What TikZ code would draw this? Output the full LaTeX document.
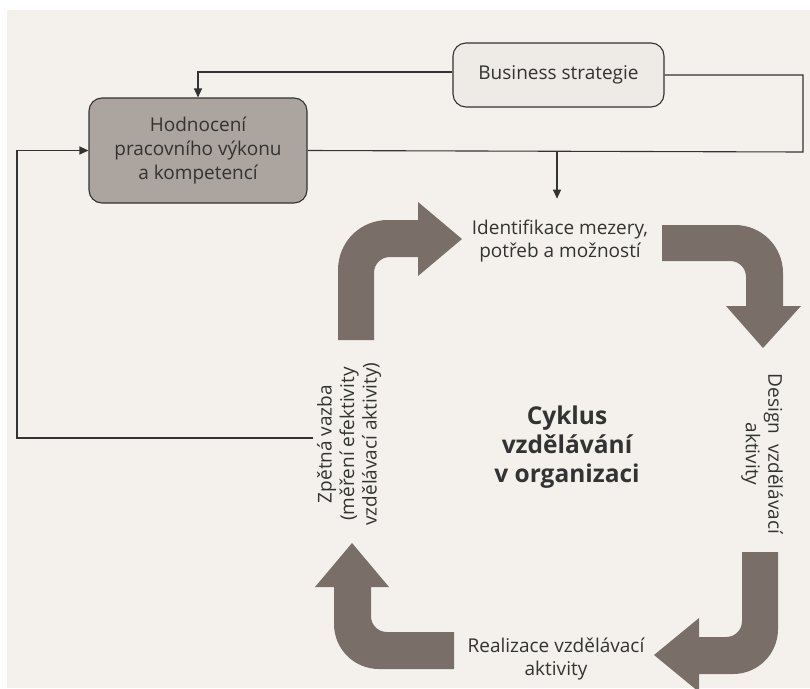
\documentclass[tikz,border=0pt]{standalone}
\usepackage{fontspec}
\setmainfont{Open Sans}
\usetikzlibrary{arrows.meta}

\definecolor{paper}{HTML}{F4F1EC}
\definecolor{boxgray}{HTML}{ABA49F}
\definecolor{boxlight}{HTML}{EEEAE5}
\definecolor{arrowbrown}{HTML}{7A6F68}
\definecolor{inkgray}{HTML}{333333}

\begin{document}
\begin{tikzpicture}[x=1pt, y=-1pt,
    box/.style={draw=inkgray, line width=1.1pt, rounded corners=13pt, font=\fontsize{19}{24}\selectfont, text=inkgray, align=center, inner sep=0pt},
    txt/.style={font=\fontsize{19}{22.5}\selectfont, text=inkgray, align=center},
    boldtxt/.style={font=\fontsize{24.5}{29}\selectfont\bfseries, text=inkgray, align=center},
    conn/.style={draw=inkgray, line width=1.1pt},
    connarrow/.style={conn, -{Triangle[length=9pt, width=8pt]}},
    bigarrow/.style={fill=arrowbrown}
]
    % Paper
    \useasboundingbox (0,0) rectangle (810,688);
    \fill[white] (0,0) rectangle (810,688);
    \fill[paper] (7,10) rectangle (810,688);

    % Boxes
    \node[box, fill=boxlight, minimum width=211pt, minimum height=64pt] (bs) at (558.5,75) {Business strategie};
    \node[box, fill=boxgray, minimum width=218pt, minimum height=105pt] (hod) at (198,150.5) {Hodnocení\\pracovního výkonu\\a kompetencí};

    % Cycle labels
    \node[txt] (ident) at (560,241) {Identifikace mezery,\\potřeb a možností};
    \node[txt, rotate=-90] (design) at (762,454) {Design\ \ vzdělávací\\aktivity};
    \node[txt] (real) at (556,659) {Realizace vzdělávací\\aktivity};
    \node[txt, rotate=90] (zpet) at (349,444) {Zpětná vazba\\(měření efektivity\\vzdělávací aktivity)};
    \node[boldtxt] (cycle) at (567,447) {Cyklus\\vzdělávání\\v organizaci};

    % Thin connectors
    \coordinate (rb) at (803,152);
    \coordinate (jn) at (557,152);
    \coordinate (lc) at (17,300);
    \draw[connarrow] ([yshift=3pt]bs.west) -| (hod.north);
    \draw[conn] (bs.east) -| (rb) -- (hod.east);
    \draw[connarrow, shorten >=18pt] (jn) -- (jn |- ident.north);
    \draw[connarrow] ([yshift=6pt]zpet.north) -| (lc) |- (hod.west);

    % Bent arrows of the cycle
    \fill[bigarrow] (338,340) -- (338,270) .. controls (338,242) and (360,220) .. (388,220)
        -- (418,220) -- (418,202) -- (462,239) -- (418,276) -- (418,257) -- (390,257)
        .. controls (381,257) and (374,264) .. (374,273) -- (374,340) -- cycle;
    \fill[bigarrow] (662,225) -- (735,225) .. controls (761.5,225) and (783,246.5) .. (783,273)
        -- (783,306) -- (801,306) -- (763,348) -- (726,306) -- (746,306) -- (746,277)
        .. controls (746,268) and (739,261) .. (730,261) -- (662,261) -- cycle;
    \fill[bigarrow] (742,552) -- (778,552) -- (778,629) .. controls (778,654) and (758,674) .. (733,674)
        -- (699,674) -- (699,692) -- (654,655) -- (699,618) -- (699,637) -- (726,637)
        .. controls (735,637) and (742,630) .. (742,621) -- cycle;
    \fill[bigarrow] (454,632) -- (454,669) -- (379,669) .. controls (354,669) and (334,649) .. (334,624)
        -- (334,587) -- (315,587) -- (352,543) -- (389,587) -- (371,587) -- (371,616)
        .. controls (371,625) and (378,632) .. (387,632) -- cycle;
\end{tikzpicture}
\end{document}
